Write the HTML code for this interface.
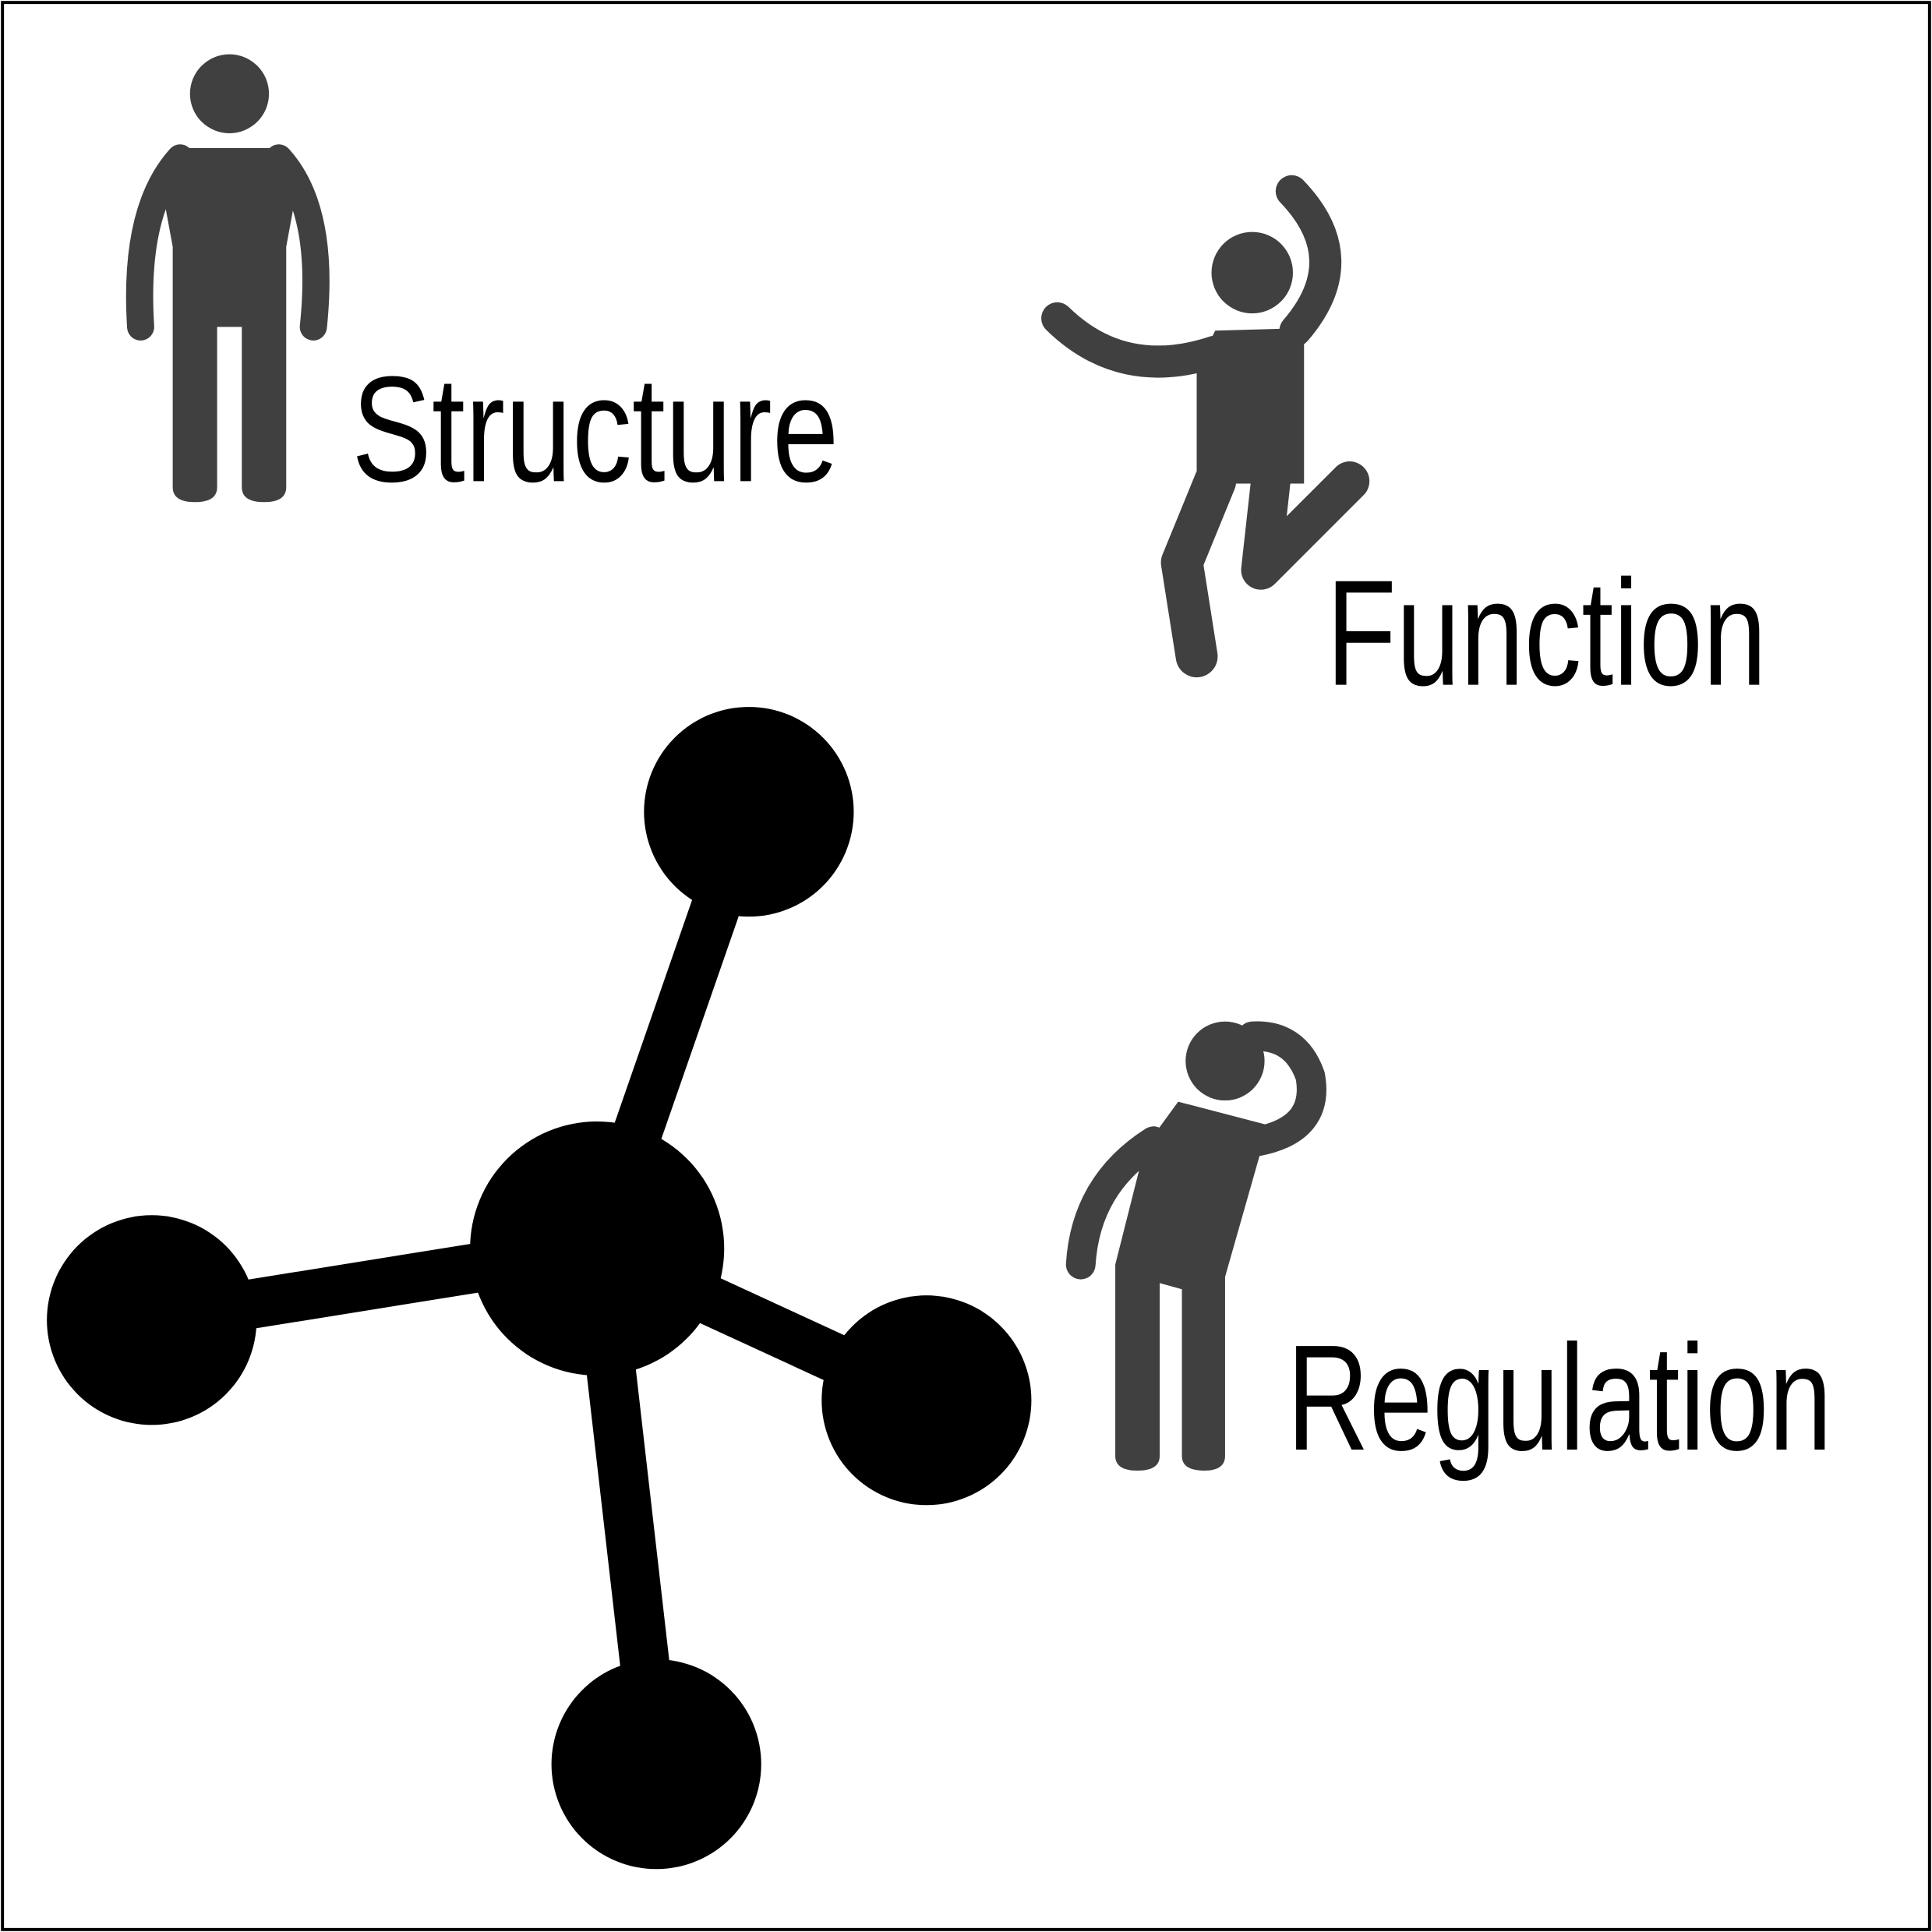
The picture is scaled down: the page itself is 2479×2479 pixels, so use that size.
<!DOCTYPE html>
<html><head><meta charset="utf-8"><style>
html,body{margin:0;padding:0;background:#fff;}
svg{display:block;}
text{font-family:"Liberation Sans",sans-serif;fill:#000;}
</style></head><body>
<svg width="2479" height="2479" viewBox="0 0 1566 1566">
<rect x="0" y="0" width="1566" height="1566" fill="#fff"/>
<rect x="2" y="2" width="1562" height="1562" fill="none" stroke="#000" stroke-width="2.5"/>

<g fill="#404040" stroke="#404040">
  <circle cx="186" cy="76" r="32" stroke="none"/>
  <path d="M150 120 L222 120 Q236 122 244 135 L232 200 L232 395 Q232 407 214 407 Q196 407 196 395 L196 265 L176 265 L176 395 Q176 407 158 407 Q140 407 140 395 L140 200 L128 135 Q136 122 150 120 Z" stroke="none"/>
  <path d="M146 128 Q108 170 114 265" fill="none" stroke-width="22" stroke-linecap="round"/>
  <path d="M226 128 Q264 170 254 265" fill="none" stroke-width="22" stroke-linecap="round"/>
</g>
<text x="285" y="390" font-size="122" textLength="395" lengthAdjust="spacingAndGlyphs">Structure</text>

<g fill="#404040" stroke="#404040">
  <circle cx="1015" cy="221" r="33" stroke="none"/>
  <path d="M985 268 L1057 266 L1057 392 L970 392 L970 298 Z" stroke="none"/>
  <path d="M857 258 Q910 310 985 285" fill="none" stroke-width="26" stroke-linecap="round"/>
  <path d="M1047 155 Q1100 210 1050 268" fill="none" stroke-width="26" stroke-linecap="round"/>
  <path d="M985 390 L958 456 L970 532" fill="none" stroke-width="34" stroke-linecap="round" stroke-linejoin="round"/>
  <path d="M1030 390 L1022 462 L1094 390" fill="none" stroke-width="32" stroke-linecap="round" stroke-linejoin="round"/>
</g>
<text x="1075" y="555" font-size="122" textLength="357" lengthAdjust="spacingAndGlyphs">Function</text>

<g fill="#404040" stroke="#404040">
  <circle cx="993" cy="860" r="32" stroke="none"/>
  <path d="M955 893 L1028 912 L993 1035 L993 1180 Q993 1192 976 1192 Q958 1192 958 1180 L958 1045 L940 1040 L940 1180 Q940 1192 922 1192 Q904 1192 904 1180 L904 1025 L928 930 Z" stroke="none"/>
  <path d="M935 925 Q880 960 876 1025" fill="none" stroke-width="24" stroke-linecap="round"/>
  <path d="M1020 925 Q1070 915 1062 872 Q1050 838 1015 840" fill="none" stroke-width="24" stroke-linecap="round"/>
</g>
<text x="1043" y="1175" font-size="122" textLength="442" lengthAdjust="spacingAndGlyphs">Regulation</text>

<g fill="#000" stroke="#000">
  <line x1="484" y1="1012" x2="607" y2="658" stroke-width="40"/>
  <line x1="484" y1="1012" x2="123" y2="1070" stroke-width="40"/>
  <line x1="484" y1="1012" x2="751" y2="1135" stroke-width="40"/>
  <line x1="484" y1="1012" x2="532" y2="1430" stroke-width="40"/>
  <circle cx="484" cy="1012" r="103" stroke="none"/>
  <circle cx="607" cy="658" r="85" stroke="none"/>
  <circle cx="123" cy="1070" r="85" stroke="none"/>
  <circle cx="751" cy="1135" r="85" stroke="none"/>
  <circle cx="532" cy="1430" r="85" stroke="none"/>
</g>
</svg>
</body></html>
